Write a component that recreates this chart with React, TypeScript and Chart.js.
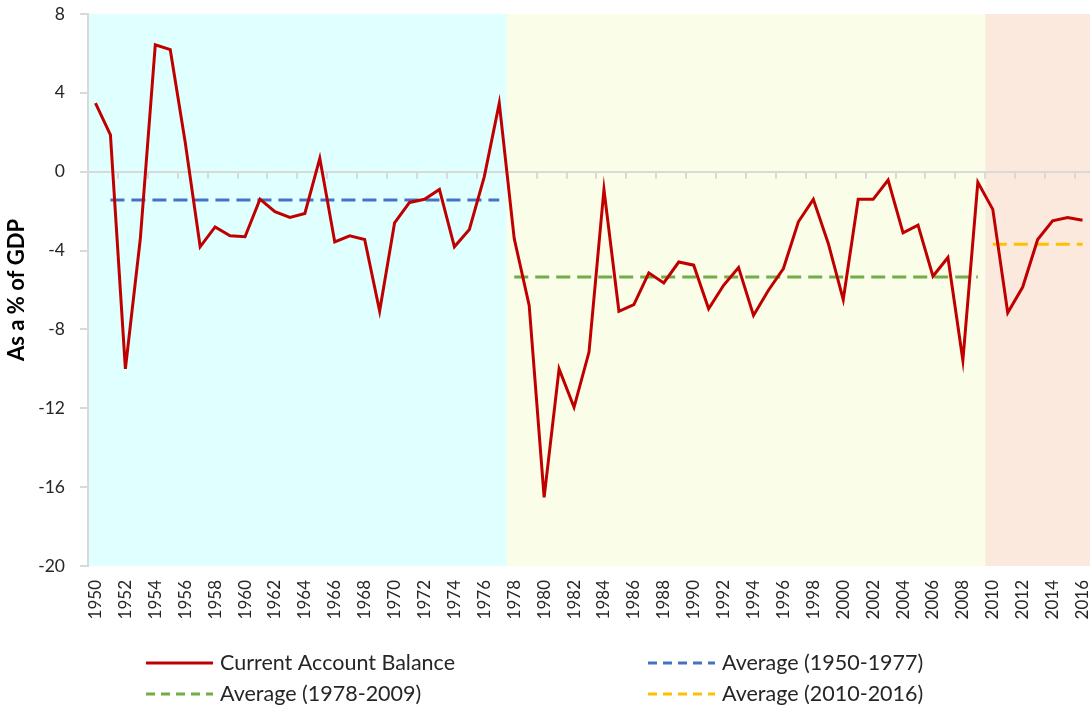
import React, { useEffect, useRef } from "react";
import { Chart, registerables } from "chart.js";

Chart.register(...registerables);

const years: string[] = [
  "1950","1951","1952","1953","1954","1955","1956","1957","1958","1959",
  "1960","1961","1962","1963","1964","1965","1966","1967","1968","1969",
  "1970","1971","1972","1973","1974","1975","1976","1977","1978","1979",
  "1980","1981","1982","1983","1984","1985","1986","1987","1988","1989",
  "1990","1991","1992","1993","1994","1995","1996","1997","1998","1999",
  "2000","2001","2002","2003","2004","2005","2006","2007","2008","2009",
  "2010","2011","2012","2013","2014","2015","2016",
];

const currentAccountBalance: number[] = [
  3.48, 1.87, -10.0, -3.39, 6.44, 6.19, 1.5, -3.81, -2.8, -3.25,
  -3.3, -1.39, -2.03, -2.32, -2.12, 0.68, -3.56, -3.25, -3.44, -7.07,
  -2.59, -1.56, -1.4, -0.9, -3.81, -2.93, -0.25, 3.48, -3.39, -6.78,
  -16.52, -10.0, -11.95, -9.15, -0.9, -7.08, -6.74, -5.13, -5.64, -4.58,
  -4.74, -6.95, -5.76, -4.86, -7.29, -6.01, -4.91, -2.54, -1.4, -3.64,
  -6.49, -1.4, -1.4, -0.42, -3.1, -2.71, -5.3, -4.35, -9.57, -0.54,
  -1.91, -7.15, -5.85, -3.44, -2.49, -2.32, -2.46,
];

// Period averages: [first year drawn, last year drawn, value]
const avg1950to1977: [string, string, number] = ["1951", "1977", -1.44];
const avg1978to2009: [string, string, number] = ["1978", "2009", -5.34];
const avg2010to2016: [string, string, number] = ["2010", "2016", -3.68];

// Shaded periods: first year of each period
const periodStarts: string[] = ["1950", "1978", "2010"];

const yTicks: number[] = [8, 4, 0, -4, -8, -12, -16, -20];

const seriesLabels: string[] = [
  "Current Account Balance",
  "Average (1950-1977)",
  "Average (1978-2009)",
  "Average (2010-2016)",
];

const FONT = "Lato, 'Open Sans', sans-serif";
const periodColors = ["#e0ffff", "#fafde8", "#fbe9de"];
const axisGrey = "#d9d9d9";

function avgSeries(a: [string, string, number]): (number | null)[] {
  const i0 = years.indexOf(a[0]);
  const i1 = years.indexOf(a[1]);
  return years.map((_, i) => (i >= i0 && i <= i1 ? a[2] : null));
}

const bgPlugin = {
  id: "periodBackground",
  beforeDraw(chart: any) {
    const { ctx, chartArea, scales } = chart;
    const x = scales.x;
    const edges: number[] = periodStarts.map((y, k) => {
      if (k === 0) return chartArea.left;
      const i = years.indexOf(y);
      return (x.getPixelForValue(i - 1) + x.getPixelForValue(i)) / 2;
    });
    edges.push(chartArea.right);
    ctx.save();
    for (let k = 0; k < periodStarts.length; k++) {
      ctx.fillStyle = periodColors[k];
      ctx.fillRect(edges[k], chartArea.top, edges[k + 1] - edges[k], chartArea.bottom - chartArea.top);
    }
    ctx.restore();
  },
  beforeDatasetsDraw(chart: any) {
    const { ctx, scales } = chart;
    const x = scales.x;
    const y0 = scales.y.getPixelForValue(0);
    ctx.save();
    ctx.strokeStyle = axisGrey;
    ctx.lineWidth = 2;
    ctx.beginPath();
    for (let i = 2; i < years.length; i += 2) {
      const px = Math.round((x.getPixelForValue(i - 1) + x.getPixelForValue(i)) / 2);
      ctx.moveTo(px, y0);
      ctx.lineTo(px, y0 + 7);
    }
    ctx.stroke();
    ctx.restore();
  },
};

const legendPlugin = {
  id: "gridLegend",
  afterDraw(chart: any) {
    const { ctx } = chart;
    const ds = chart.data.datasets;
    const cols = [146, 648];
    const rows = [663, 694];
    ctx.save();
    ctx.font = `21.5px ${FONT}`;
    ctx.textBaseline = "middle";
    ctx.fillStyle = "#262626";
    ds.forEach((d: any, i: number) => {
      const cx = cols[i % 2];
      const cy = rows[Math.floor(i / 2)];
      ctx.strokeStyle = d.borderColor;
      ctx.lineWidth = 3;
      ctx.setLineDash(d.borderDash && d.borderDash.length ? [9, 6] : []);
      ctx.beginPath();
      ctx.moveTo(cx, cy);
      ctx.lineTo(cx + 67, cy);
      ctx.stroke();
      ctx.setLineDash([]);
      ctx.fillText(d.label, cx + 74, cy);
    });
    ctx.restore();
  },
};

export default function App() {
  const ref = useRef<HTMLCanvasElement | null>(null);
  useEffect(() => {
    if (!ref.current) return;
    const chart = new Chart(ref.current, {
      type: "line",
      data: {
        labels: years,
        datasets: [
          {
            label: seriesLabels[0],
            data: currentAccountBalance,
            borderColor: "#c00000",
            borderWidth: 3,
            pointRadius: 0,
            tension: 0,
            borderJoinStyle: "miter",
          },
          {
            label: seriesLabels[1],
            data: avgSeries(avg1950to1977),
            borderColor: "#4472c4",
            borderWidth: 3,
            borderDash: [14, 7],
            pointRadius: 0,
          },
          {
            label: seriesLabels[2],
            data: avgSeries(avg1978to2009),
            borderColor: "#70ad47",
            borderWidth: 3,
            borderDash: [14, 7],
            pointRadius: 0,
          },
          {
            label: seriesLabels[3],
            data: avgSeries(avg2010to2016),
            borderColor: "#ffc000",
            borderWidth: 3,
            borderDash: [14, 7],
            pointRadius: 0,
          },
        ],
      },
      options: {
        responsive: false,
        animation: false,
        events: [],
        layout: { padding: { top: 14, right: 2, left: 0, bottom: 0 } },
        plugins: {
          legend: { display: false },
          tooltip: { enabled: false },
        },
        scales: {
          x: {
            type: "category",
            offset: true,
            grid: { display: false, drawTicks: false },
            border: { display: false },
            ticks: {
              autoSkip: false,
              maxRotation: 90,
              minRotation: 90,
              padding: 14,
              color: "#262626",
              font: { family: FONT, size: 17 },
              callback: (_v: any, i: number) => (i % 2 === 0 ? years[i] : ""),
            },
            afterFit: (s: any) => {
              s.height = 147;
              s.paddingLeft = 0;
              s.paddingRight = 0;
            },
          },
          y: {
            min: yTicks[yTicks.length - 1],
            max: yTicks[0],
            afterBuildTicks: (s: any) => {
              s.ticks = yTicks.map((v) => ({ value: v }));
            },
            grid: {
              color: (c: any) => (c.tick && c.tick.value === 0 ? axisGrey : "rgba(0,0,0,0)"),
              lineWidth: 2,
              tickColor: axisGrey,
              tickLength: 8,
              tickWidth: 2,
            },
            border: { display: true, color: axisGrey, width: 2 },
            ticks: {
              padding: 15,
              color: "#262626",
              font: { family: FONT, size: 17.5 },
            },
            title: {
              display: true,
              text: "As a % of GDP",
              color: "#000000",
              font: { family: FONT, size: 22, weight: "bold" },
              padding: { top: 4, bottom: 0 },
            },
            afterFit: (s: any) => {
              s.width = 88;
              s.paddingTop = 0;
              s.paddingBottom = 0;
            },
          },
        },
      },
      plugins: [bgPlugin, legendPlugin],
    } as any);
    return () => chart.destroy();
  }, []);
  return (
    <div style={{ position: "fixed", left: 0, top: 0, width: 1092, height: 713, background: "#ffffff" }}>
      <canvas ref={ref} width={1092} height={713} />
    </div>
  );
}
